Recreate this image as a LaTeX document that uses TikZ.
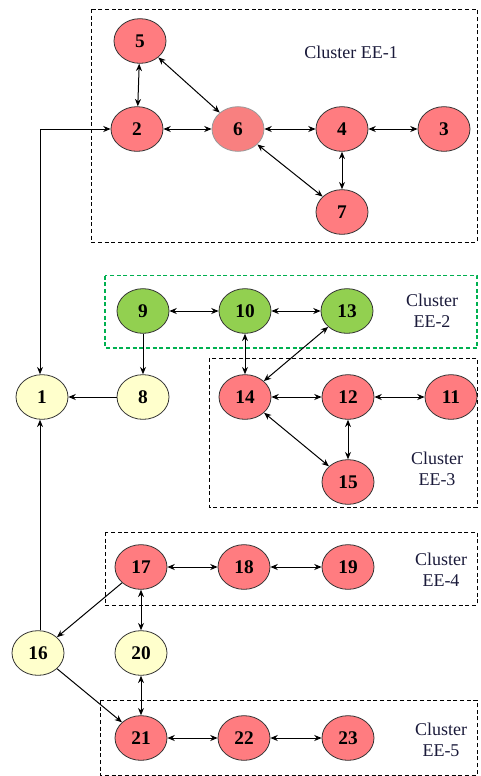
\documentclass[tikz,border=0pt]{standalone}
\usepackage{fontspec}
\setmainfont{Liberation Serif}
\usetikzlibrary{shapes.geometric,arrows.meta}
\definecolor{nred}{HTML}{FF7C80}
\definecolor{nred6}{HTML}{F88080}
\definecolor{ngreen}{HTML}{92D050}
\definecolor{nyellow}{HTML}{FFFFCC}
\definecolor{dgreen}{HTML}{00B050}
\definecolor{labtxt}{HTML}{1A1A3A}
\tikzset{
  nd/.style={ellipse,draw=black!80,line width=0.6pt,minimum width=39pt,minimum height=33.5pt,inner sep=0pt,font=\fontsize{14.5}{16}\selectfont\bfseries},
  rednd/.style={nd,fill=nred},
  greennd/.style={nd,fill=ngreen},
  yellownd/.style={nd,fill=nyellow},
  clbox/.style={draw=black,dash pattern=on 3pt off 2pt,line width=0.6pt},
  greenbox/.style={draw=dgreen,dash pattern=on 3pt off 2pt,line width=0.9pt},
  cllab/.style={align=center,text=labtxt,font=\fontsize{13.5}{16}\selectfont},
  con/.style={line width=0.75pt,{Stealth[length=5.5pt,width=4.5pt]}-{Stealth[length=5.5pt,width=4.5pt]}},
  con1/.style={line width=0.75pt,-{Stealth[length=5.5pt,width=4.5pt]}}
}
\begin{document}
\begin{tikzpicture}[x=0.75pt,y=-0.75pt]
\useasboundingbox[fill=white] (0,0) rectangle (480,776);
% cluster boxes
\draw[clbox] (91,9) rectangle (477,242);
\draw[greenbox] (105,275.5) rectangle (477,348);
\draw[clbox] (209,358) rectangle (477,507);
\draw[clbox] (105,532) rectangle (477,605);
\draw[clbox] (100,700) rectangle (477,775);
% labels
\node[cllab] (l1) at (351,52) {Cluster EE-1};
\node[cllab] (l2) at (432,311) {Cluster\\EE-2};
\node[cllab] (l3) at (437,469) {Cluster\\EE-3};
\node[cllab] (l4) at (441,570) {Cluster\\EE-4};
\node[cllab] (l5) at (441,740) {Cluster\\EE-5};
% nodes
\node[rednd] (n5) at (140,41) {5};
\node[rednd] (n2) at (137,129) {2};
\node[rednd,fill=nred6,draw=black!40] (n6) at (238,129) {6};
\node[rednd] (n4) at (342,129) {4};
\node[rednd] (n3) at (444,129) {3};
\node[rednd] (n7) at (342,212) {7};
\node[greennd] (n9) at (143,311) {9};
\node[greennd] (n10) at (245,311) {10};
\node[greennd] (n13) at (347,311) {13};
\node[yellownd] (n1) at (42,397) {1};
\node[yellownd] (n8) at (143,397) {8};
\node[rednd] (n14) at (245,397) {14};
\node[rednd] (n12) at (348,397) {12};
\node[rednd] (n11) at (451,397) {11};
\node[rednd] (n15) at (348,482) {15};
\node[rednd] (n17) at (141,567) {17};
\node[rednd] (n18) at (244,567) {18};
\node[rednd] (n19) at (348,567) {19};
\node[yellownd] (n16) at (38,653) {16};
\node[yellownd] (n20) at (141,653) {20};
\node[rednd] (n21) at (141,738) {21};
\node[rednd] (n22) at (244,738) {22};
\node[rednd] (n23) at (348,738) {23};
\coordinate (vx) at (40,0);
% edges cluster 1
\draw[con] (n5) -- (n2);
\draw[con] (n5) -- (n6);
\draw[con] (n2) -- (n6);
\draw[con] (n6) -- (n4);
\draw[con] (n4) -- (n3);
\draw[con] (n6) -- (n7);
\draw[con] (n4) -- (n7);
% link 1 - 2
\draw[con] (n1.north -| vx) |- (n2.west);
% cluster 2/3
\draw[con] (n9) -- (n10);
\draw[con] (n10) -- (n13);
\draw[con] (n10) -- (n14);
\draw[con] (n13) -- (n14);
\draw[con] (n14) -- (n12);
\draw[con] (n12) -- (n11);
\draw[con] (n14) -- (n15);
\draw[con] (n12) -- (n15);
\draw[con1] (n9) -- (n8);
\draw[con1] (n8) -- (n1);
% lower
\draw[con1] (n16.north -| vx) -- (n1.south -| vx);
\draw[con1] (n17) -- (n16);
\draw[con1] (n16) -- (n21);
\draw[con] (n17) -- (n20);
\draw[con] (n20) -- (n21);
\draw[con] (n17) -- (n18);
\draw[con] (n18) -- (n19);
\draw[con] (n21) -- (n22);
\draw[con] (n22) -- (n23);
\end{tikzpicture}
\end{document}
